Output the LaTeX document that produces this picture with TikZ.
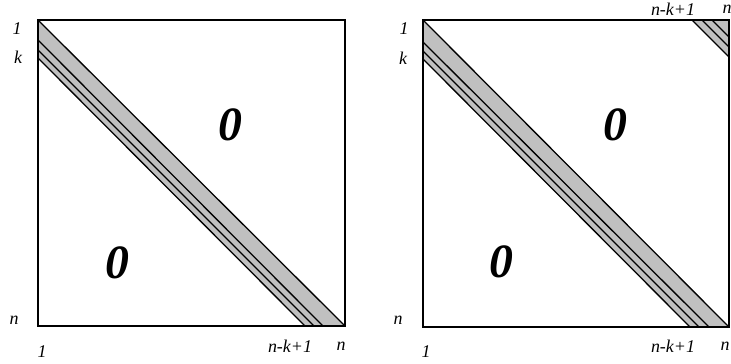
\documentclass[tikz,border=0pt]{standalone}
\usepackage{fontspec}
\setmainfont{Liberation Serif}
\definecolor{bandgray}{RGB}{192,192,192}
\tikzset{
  frame/.style={line width=1.8pt},
  bandline/.style={line width=1.3pt},
  band/.style={fill=bandgray},
  lbl/.style={inner sep=0pt,font=\fontsize{18}{18}\selectfont\itshape},
  zero/.style={inner sep=0pt,font=\fontsize{48}{48}\selectfont\bfseries\itshape}
}
\begin{document}
\begin{tikzpicture}[x=1bp,y=-1bp]
\useasboundingbox (0,0) rectangle (731,363);
% ---------- left matrix ----------
\fill[band] (38,20) -- (345,326) -- (305,326) -- (38,58) -- cycle;
\draw[bandline] (38,20) -- (345,326);
\draw[bandline] (38,40) -- (323,326);
\draw[bandline] (38,50) -- (314,326);
\draw[bandline] (38,58) -- (305,326);
\draw[frame] (38,20) rectangle (345,326);
\node[lbl] (l1) at (17,29) {1};
\node[lbl] (lk) at (18,57) {k};
\node[lbl] (ln) at (14,320) {n};
\node[lbl] (lb1) at (42,352) {1};
\node[lbl] (lbnk) at (290,346) {n-k+1};
\node[lbl] (lbn) at (341,346) {n};
\node[zero] (lz1) at (230,125) {0};
\node[zero] (lz2) at (117,263) {0};
% ---------- right matrix ----------
\fill[band] (423,20) -- (729,327) -- (690,327) -- (423,59) -- cycle;
\fill[band] (692,20) -- (729,20) -- (729,57) -- cycle;
\draw[bandline] (423,20) -- (729,327);
\draw[bandline] (423,42) -- (709,327);
\draw[bandline] (423,51) -- (699,327);
\draw[bandline] (423,59) -- (690,327);
\draw[bandline] (692,20) -- (729,57);
\draw[bandline] (702,20) -- (729,47);
\draw[bandline] (712,20) -- (729,37);
\draw[frame] (423,20) rectangle (729,327);
\node[lbl] (r1) at (404,29) {1};
\node[lbl] (rk) at (403,58) {k};
\node[lbl] (rn) at (398,320) {n};
\node[lbl] (rb1) at (426,352) {1};
\node[lbl] (rbnk) at (673,346) {n-k+1};
\node[lbl] (rbn) at (725,346) {n};
\node[lbl] (rtnk) at (673,9) {n-k+1};
\node[lbl] (rtn) at (727,9) {n};
\node[zero] (rz1) at (615,125) {0};
\node[zero] (rz2) at (501,262) {0};
\end{tikzpicture}
\end{document}
